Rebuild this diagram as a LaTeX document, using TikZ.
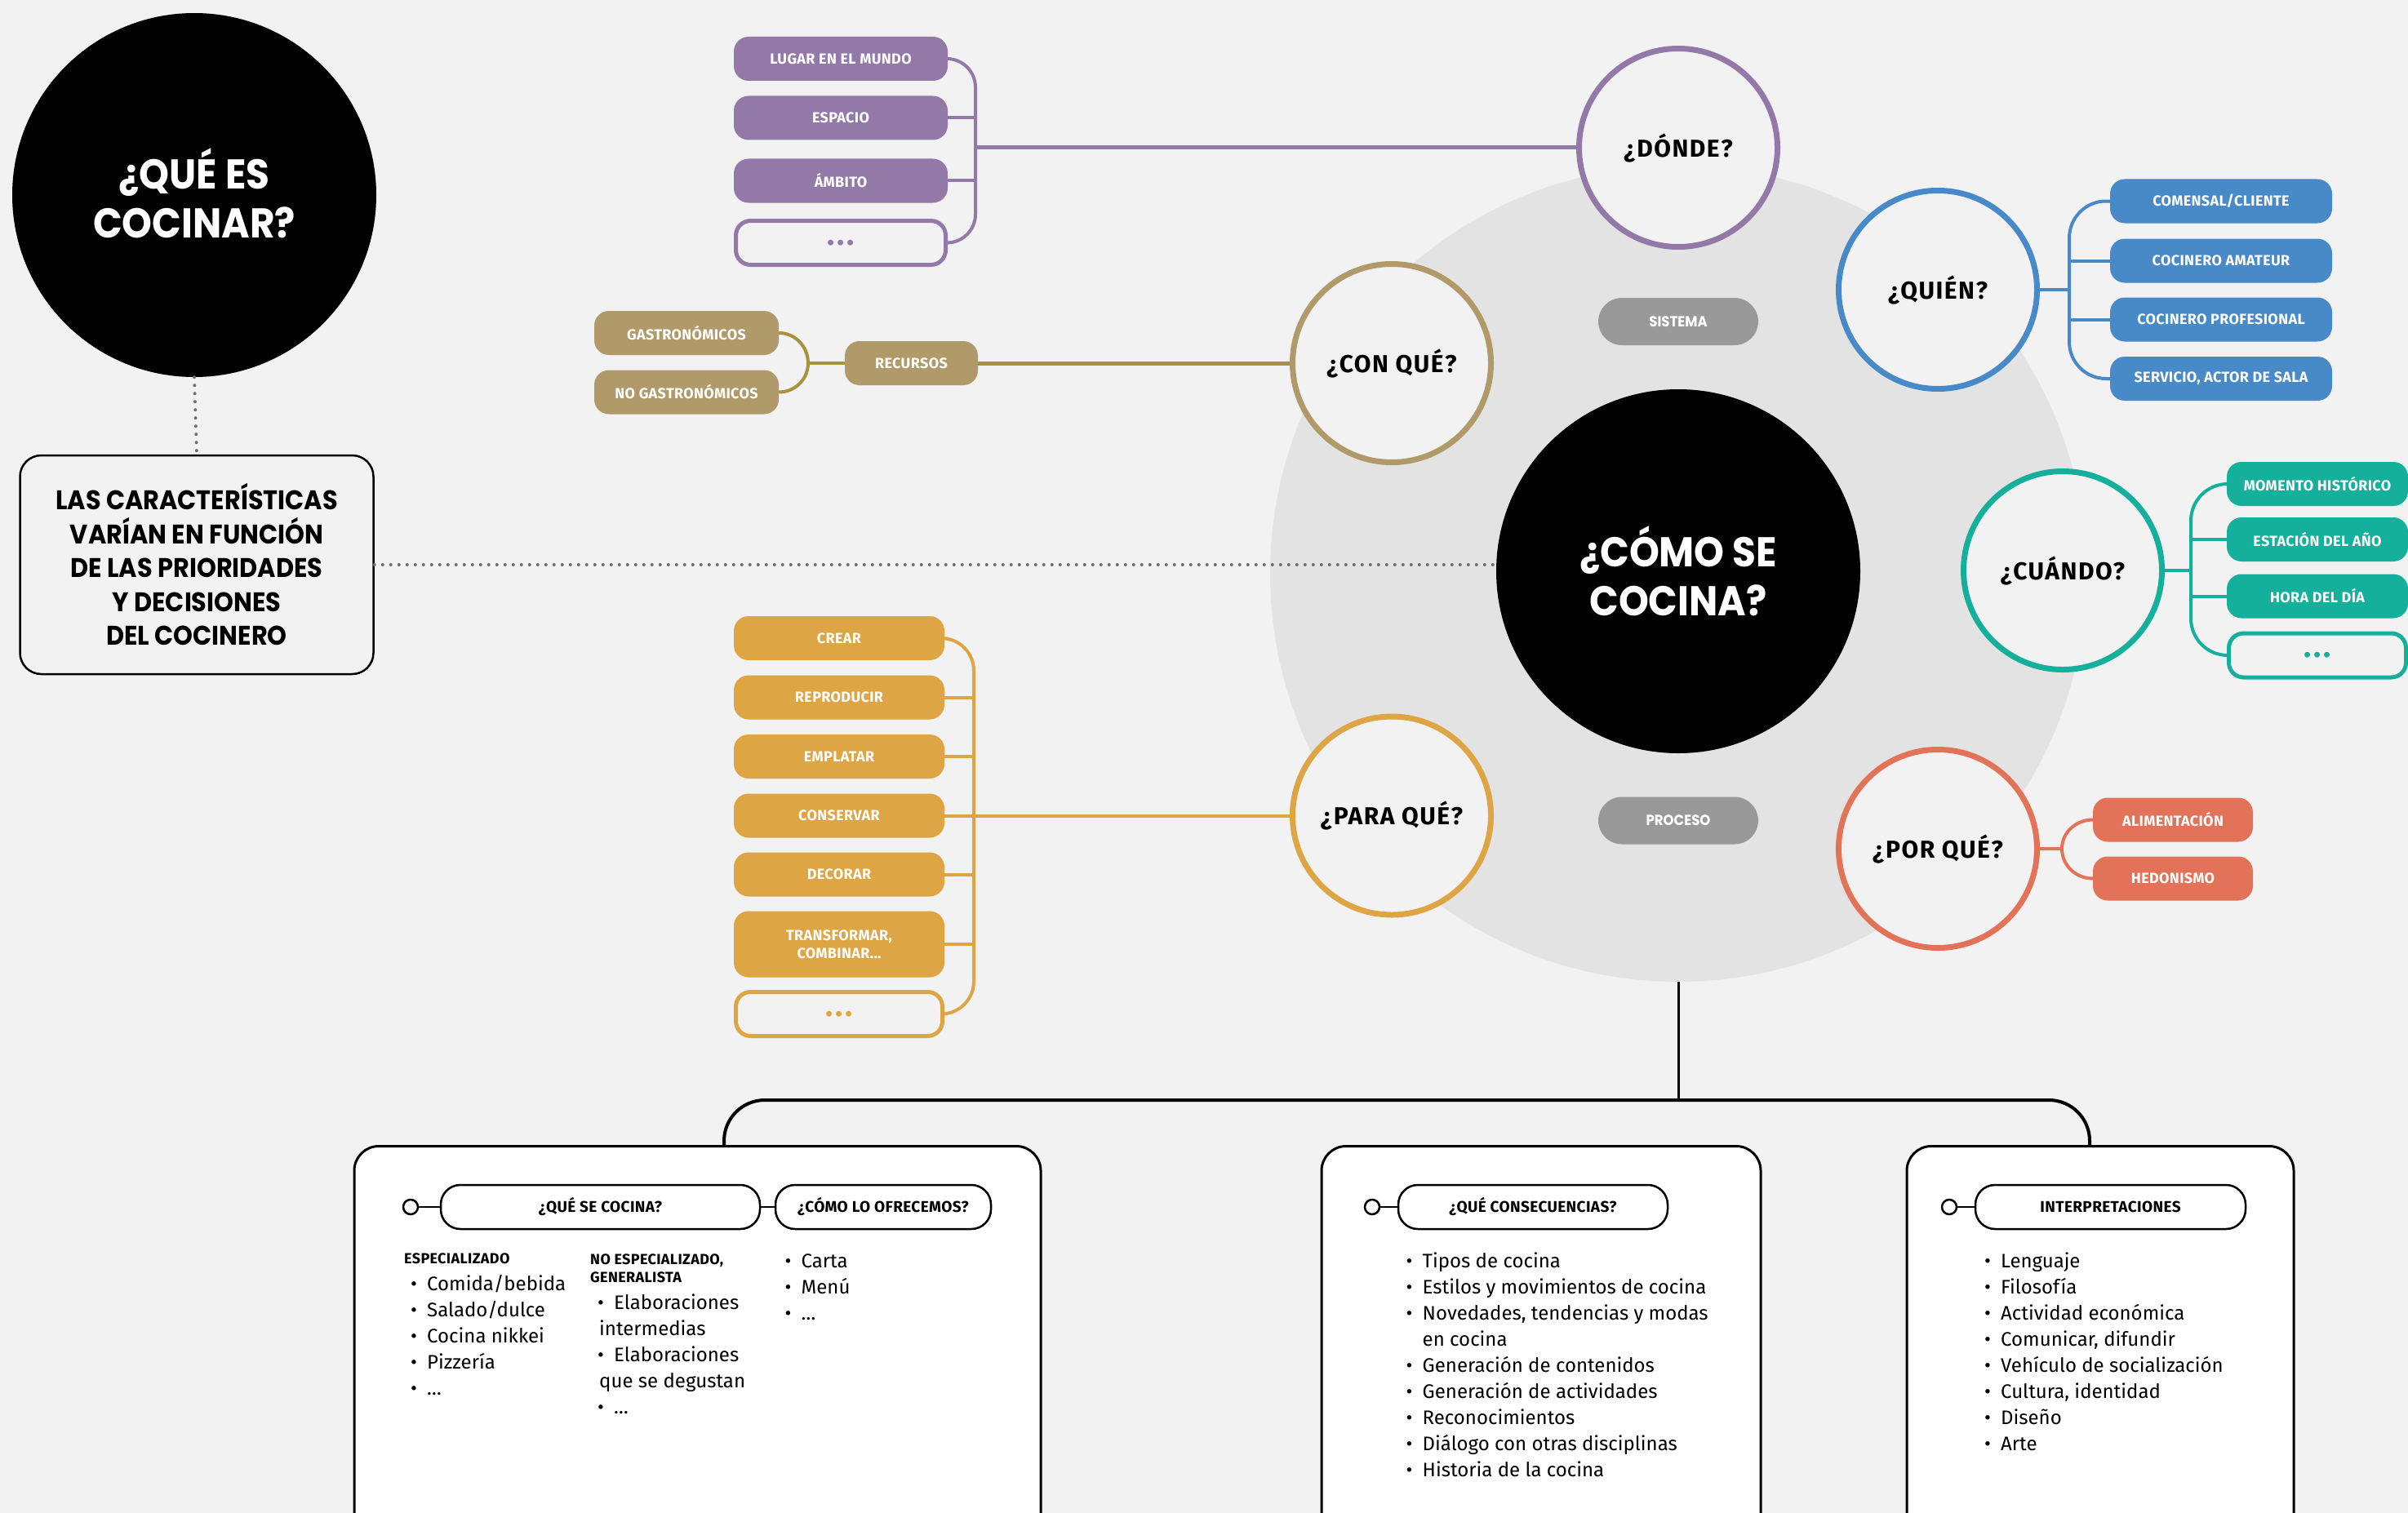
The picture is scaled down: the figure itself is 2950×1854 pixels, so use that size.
\documentclass[tikz,border=0pt]{standalone}
\usepackage{fontspec}
\setmainfont{Fira Sans}
\newfontfamily\headfont{Poppins}[FakeStretch=0.92]
\newfontfamily\tagfont{Fira Sans}[LetterSpace=2]
\newfontfamily\askfont{Fira Sans}[LetterSpace=5]
\newfontfamily\dotsfont{Fira Sans}[LetterSpace=8]
\usetikzlibrary{calc}

\definecolor{paper}{HTML}{F2F2F2}
\definecolor{ringc}{HTML}{E3E3E3}
\definecolor{purp}{HTML}{9379A8}
\definecolor{tanc}{HTML}{B19A69}
\definecolor{tanline}{HTML}{A8923E}
\definecolor{blu}{HTML}{4889C8}
\definecolor{tealc}{HTML}{15B09B}
\definecolor{cor}{HTML}{E37358}
\definecolor{ylw}{HTML}{DEA545}
\definecolor{pillg}{HTML}{999999}
\definecolor{dotc}{HTML}{6E6E6E}

\newcommand\bul{\makebox[20pt][l]{\textbullet}}

\tikzset{
  tagbox/.style={rounded corners=18, fill=#1, minimum height=54, text=white, align=center, inner sep=0pt,
    font=\tagfont\bfseries\fontsize{18}{22.4}\selectfont},
  morebox/.style={rounded corners=18, draw=#1, fill=paper, line width=5, minimum height=54, text=#1, inner sep=0pt,
    font=\dotsfont\bfseries\fontsize{38}{38}\selectfont},
  askring/.style={circle, draw=#1, fill=paper, line width=7, minimum size=243, inner sep=0pt,
    font=\askfont\bfseries\fontsize{30}{32}\selectfont},
  linkto/.style={draw=#1, line width=4},
  hubdisc/.style={circle, fill=black, minimum size=446, inner sep=0pt, text=white, align=center,
    font=\headfont\bfseries\fontsize{51}{60}\selectfont},
  dotline/.style={draw=dotc, line width=4, line cap=round, dash pattern=on 0pt off 10pt},
  phasepill/.style={rounded corners=29, fill=pillg, minimum width=196, minimum height=58, text=white, inner sep=0pt,
    font=\headfont\bfseries\fontsize{18}{20}\selectfont},
  panelbox/.style={draw=black, fill=white, line width=3, rounded corners=30, anchor=north, minimum height=600, inner sep=0pt},
  topicpill/.style={draw=black, fill=white, line width=2.5, rounded corners=24, minimum height=54, inner sep=0pt,
    font=\tagfont\bfseries\fontsize{19}{22}\selectfont},
  knobdot/.style={circle, draw=black, fill=white, line width=2.5, minimum size=18, inner sep=0pt},
  bodytxt/.style={anchor=base west, inner sep=0pt, font=\fontsize{24}{28}\selectfont},
  subhd/.style={anchor=base west, inner sep=0pt, font=\tagfont\bfseries\fontsize{18}{20}\selectfont},
}

\begin{document}
\begin{tikzpicture}[x=1pt, y=-1pt]
\useasboundingbox (0,0) rectangle (2950,1854);
\clip (0,0) rectangle (2950,1854);
\fill[paper] (0,0) rectangle (2950,1854);

% grey disc behind the central question
\node[circle, fill=ringc, minimum size=1000, inner sep=0pt] (ring) at (2056,703) {};

% left column: definition and note
\node[hubdisc] (qec) at (238,239) {\raisebox{4pt}{¿QUÉ ES}\\\raisebox{4pt}{COCINAR?}};
\node[draw=black, line width=2.5, rounded corners=26, minimum width=433, minimum height=268, inner sep=0pt,
      align=center, font=\headfont\bfseries\fontsize{33}{41.5}\selectfont] (car) at (241,692)
      {LAS CARACTERÍSTICAS\\VARÍAN EN FUNCIÓN\\DE LAS PRIORIDADES\\Y DECISIONES\\DEL COCINERO};

% central disc and the two grey labels
\node[hubdisc] (comose) at (2056,700) {¿CÓMO SE\\COCINA?};
\draw[dotline] (qec.south) -- (car.north);
\draw[dotline] (car.east) -- (car.east -| comose.west);
\node[phasepill] (sis) at (2056,394) {SISTEMA};
\node[phasepill] (pro) at (2056,1005.5) {PROCESO};

% question rings
\node[askring=purp] (donde) at (2056,181) {¿DÓNDE?};
\node[askring=blu] (quien) at (2374,355) {¿QUIÉN?};
\node[askring=tealc] (cuando) at (2527,699) {¿CUÁNDO?};
\node[askring=cor] (porque) at (2374,1040) {¿POR QUÉ?};
\node[askring=ylw] (paraque) at (1705,999.5) {¿PARA QUÉ?};
\node[askring=tanc] (conque) at (1705,445) {¿CON QUÉ?};

% ¿DÓNDE?
\node[tagbox=purp, minimum width=262] (p1) at (1030,72) {LUGAR EN EL MUNDO};
\node[tagbox=purp, minimum width=262] (p2) at (1030,144.5) {ESPACIO};
\node[tagbox=purp, minimum width=262] (p3) at (1030,221.5) {ÁMBITO};
\node[morebox=purp, minimum width=257] (p4) at (1030,297.5) {...};
\coordinate (pb) at (1195,181);
\draw[linkto=purp, rounded corners=35] (p1.east) -- (p1.east -| pb) -- (p4.east -| pb) -- (p4.east);
\draw[linkto=purp] (p2.east) -- (p2.east -| pb);
\draw[linkto=purp] (p3.east) -- (p3.east -| pb);
\draw[linkto=purp, line width=5] (donde.west -| pb) -- (donde.west);

% ¿CON QUÉ?
\node[tagbox=tanc, minimum width=226] (g1) at (841,408) {GASTRONÓMICOS};
\node[tagbox=tanc, minimum width=226] (g2) at (841,480.5) {NO GASTRONÓMICOS};
\node[tagbox=tanc, minimum width=163] (rec) at (1116.5,445) {RECURSOS};
\coordinate (gb) at (990,445);
\draw[linkto=tanline] (g1.east) to[out=0, in=90] (gb) to[out=-90, in=0] (g2.east);
\draw[linkto=tanline] (gb) -- (rec.west);
\draw[linkto=tanline, line width=5] (rec.east) -- (conque.west);

% ¿QUIÉN?
\node[tagbox=blu, minimum width=272] (q1) at (2721,246.5) {COMENSAL/CLIENTE};
\node[tagbox=blu, minimum width=272] (q2) at (2721,319.5) {COCINERO AMATEUR};
\node[tagbox=blu, minimum width=272] (q3) at (2721,391.5) {COCINERO PROFESIONAL};
\node[tagbox=blu, minimum width=272] (q4) at (2721,464) {SERVICIO, ACTOR DE SALA};
\coordinate (qb) at (2535,355);
\draw[linkto=blu, rounded corners=45] (q1.west) -- (q1.west -| qb) -- (q4.west -| qb) -- (q4.west);
\draw[linkto=blu] (q2.west) -- (q2.west -| qb);
\draw[linkto=blu] (q3.west) -- (q3.west -| qb);
\draw[linkto=blu] (quien.east) -- (quien.east -| qb);

% ¿CUÁNDO?
\node[tagbox=tealc, minimum width=222] (t1) at (2839,593) {MOMENTO HISTÓRICO};
\node[tagbox=tealc, minimum width=222] (t2) at (2839,661) {ESTACIÓN DEL AÑO};
\node[tagbox=tealc, minimum width=222] (t3) at (2839,730.5) {HORA DEL DÍA};
\node[morebox=tealc, minimum width=217] (t4) at (2839,803) {...};
\coordinate (tb) at (2684,699);
\draw[linkto=tealc, rounded corners=45] (t1.west) -- (t1.west -| tb) -- (t4.west -| tb) -- (t4.west);
\draw[linkto=tealc] (t2.west) -- (t2.west -| tb);
\draw[linkto=tealc] (t3.west) -- (t3.west -| tb);
\draw[linkto=tealc] (cuando.east) -- (cuando.east -| tb);

% ¿POR QUÉ?
\node[tagbox=cor, minimum width=196] (o1) at (2662,1004.5) {ALIMENTACIÓN};
\node[tagbox=cor, minimum width=196] (o2) at (2662,1076.5) {HEDONISMO};
\coordinate (ob) at (2526,1040);
\draw[linkto=cor] (o1.west) to[out=180, in=90] (ob) to[out=-90, in=180] (o2.west);
\draw[linkto=cor] (porque.east) -- (ob);

% ¿PARA QUÉ?
\node[tagbox=ylw, minimum width=258] (y1) at (1028,782) {CREAR};
\node[tagbox=ylw, minimum width=258] (y2) at (1028,854.5) {REPRODUCIR};
\node[tagbox=ylw, minimum width=258] (y3) at (1028,927) {EMPLATAR};
\node[tagbox=ylw, minimum width=258] (y4) at (1028,999.5) {CONSERVAR};
\node[tagbox=ylw, minimum width=258] (y5) at (1028,1071.5) {DECORAR};
\node[tagbox=ylw, minimum width=258, minimum height=81] (y6) at (1028,1157) {TRANSFORMAR,\\COMBINAR...};
\node[morebox=ylw, minimum width=253] (y7) at (1028,1242.5) {...};
\coordinate (yb) at (1193,999.5);
\draw[linkto=ylw, rounded corners=40] (y1.east) -- (y1.east -| yb) -- (y7.east -| yb) -- (y7.east);
\foreach \k in {2,3,5,6} \draw[linkto=ylw] (y\k.east) -- (y\k.east -| yb);
\draw[linkto=ylw] (y4.east) -- (paraque.west);

% lower panels and the bracket joining them to the central disc
\node[panelbox, minimum width=841] (b1) at (854.5,1403) {};
\node[panelbox, minimum width=538] (b2) at (1888,1403) {};
\node[panelbox, minimum width=474] (b3) at (2573,1403) {};
\coordinate (bar) at (2056,1348);
\coordinate (legL) at (887,1348);
\coordinate (legR) at (2560,1348);
\draw[line width=3] (ring.south) -- (bar);
\draw[line width=4, rounded corners=50] (b1.north -| legL) -- (legL) -- (legR) -- (b3.north -| legR);

% panel 1
\node[knobdot] (s1) at (503,1479) {};
\node[topicpill, minimum width=391] (k1) at (735.5,1479) {¿QUÉ SE COCINA?};
\node[topicpill, minimum width=264] (k2) at (1082,1479) {¿CÓMO LO OFRECEMOS?};
\draw[line width=2.5] (s1) -- (k1);
\draw[line width=2.5] (k1) -- (k2);
\node[subhd] (h1) at (495,1548.5) {ESPECIALIZADO};
\foreach \t [count=\i] in {Comida/bebida, Salado/dulce, Cocina nikkei, Pizzería, \ldots}
  \node[bodytxt] (ea\i) at (503,{1581+32*(\i-1)}) {\bul\t};
\node[subhd] (h2a) at (723,1549.5) {NO ESPECIALIZADO,};
\node[subhd] (h2b) at (723,1571) {GENERALISTA};
\node[bodytxt] (eb1) at (732,1604) {\bul Elaboraciones};
\node[bodytxt] (eb2) at (734,1636) {intermedias};
\node[bodytxt] (eb3) at (732,1668) {\bul Elaboraciones};
\node[bodytxt] (eb4) at (734,1700) {que se degustan};
\node[bodytxt] (eb5) at (732,1732) {\bul\ldots};
\foreach \t [count=\i] in {Carta, Menú, \ldots}
  \node[bodytxt] (ec\i) at (961.5,{1553+32*(\i-1)}) {\bul\t};

% panel 2
\node[knobdot] (s2) at (1681,1479) {};
\node[topicpill, minimum width=330] (k3) at (1878,1479) {¿QUÉ CONSECUENCIAS?};
\draw[line width=2.5] (s2) -- (k3);
\foreach \t [count=\i] in {{\bul Tipos de cocina}, {\bul Estilos y movimientos de cocina},
    {\bul Novedades, tendencias y modas}, {\hspace*{20pt}en cocina}, {\bul Generación de contenidos},
    {\bul Generación de actividades}, {\bul Reconocimientos}, {\bul Diálogo con otras disciplinas},
    {\bul Historia de la cocina}}
  \node[bodytxt] (ed\i) at (1722.5,{1553+32*(\i-1)}) {\t};

% panel 3
\node[knobdot] (s3) at (2388,1479) {};
\node[topicpill, minimum width=331] (k4) at (2585.5,1479) {INTERPRETACIONES};
\draw[line width=2.5] (s3) -- (k4);
\foreach \t [count=\i] in {Lenguaje, Filosofía, Actividad económica, {Comunicar, difundir},
    Vehículo de socialización, {Cultura, identidad}, Diseño, Arte}
  \node[bodytxt] (ee\i) at (2431,{1553+32*(\i-1)}) {\bul\t};
\end{tikzpicture}
\end{document}
